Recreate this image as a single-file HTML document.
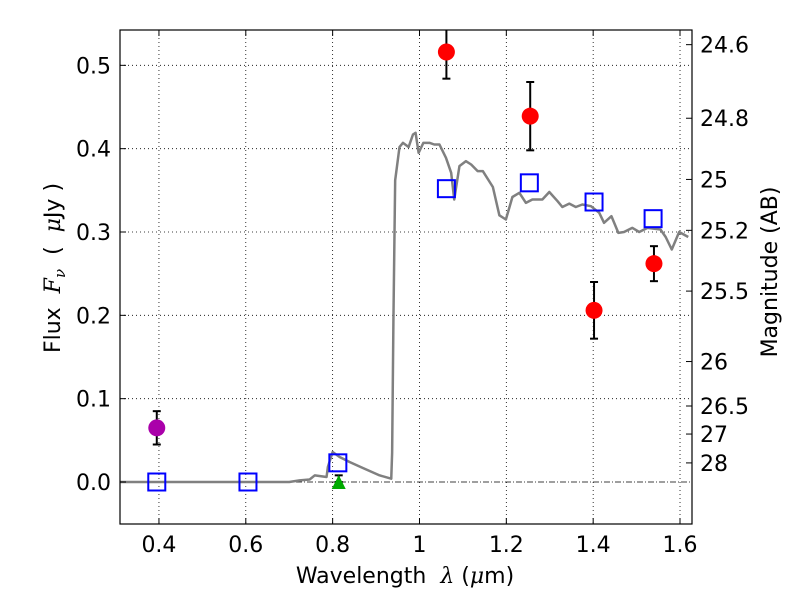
<!DOCTYPE html>
<html><head><meta charset="utf-8"><style>
html,body{margin:0;padding:0;background:#fff;}
svg{display:block;font-family:"DejaVu Sans","Liberation Sans",sans-serif;}
</style></head><body>
<svg id="chart" width="800" height="600" viewBox="0 0 800 600">
<rect x="0" y="0" width="800" height="600" fill="#fff"/>
<g id="grid"></g>
<g id="plot"></g>
<rect x="120" y="30" width="572" height="494" fill="none" stroke="#000" stroke-width="1.2"/>
<g id="axes"></g>
<text x="405" y="583" font-size="22" text-anchor="middle">Wavelength&#160;&#160;<tspan font-family="DejaVu Serif, serif" font-style="italic">λ</tspan>&#160;(<tspan font-family="DejaVu Serif, serif" font-style="italic">μ</tspan>m)</text>
<text transform="translate(60,268) rotate(-90)" font-size="22" text-anchor="middle">Flux&#160;&#160;<tspan font-family="DejaVu Serif, serif" font-style="italic">F</tspan><tspan font-family="DejaVu Serif, serif" font-style="italic" font-size="15" dy="5">ν</tspan><tspan dy="-5">&#160;&#160;(&#160;&#160;</tspan><tspan font-family="DejaVu Serif, serif" font-style="italic">μ</tspan>Jy&#160;)</text>
<text transform="translate(777,272) rotate(-90)" font-size="22" text-anchor="middle">Magnitude (AB)</text>
</svg>
<script>
const xTicks=[0.4,0.6,0.8,1.0,1.2,1.4,1.6];
const xTickLabels=["0.4","0.6","0.8","1","1.2","1.4","1.6"];
const yTicks=[0.0,0.1,0.2,0.3,0.4,0.5];
const yTickLabels=["0.0","0.1","0.2","0.3","0.4","0.5"];
const magTicks=[24.6,24.8,25,25.2,25.5,26,26.5,27,28];
const magTickLabels=["24.6","24.8","25","25.2","25.5","26","26.5","27","28"];
const sedLam=[0.31,0.5,0.7,0.724,0.747,0.759,0.786,0.789,0.8,0.816,0.839,0.869,0.908,0.935,0.937,0.940,0.944,0.954,0.962,0.975,0.985,0.991,0.998,1.009,1.023,1.034,1.046,1.061,1.073,1.080,1.092,1.107,1.119,1.134,1.146,1.169,1.184,1.199,1.214,1.230,1.245,1.260,1.283,1.299,1.318,1.329,1.345,1.360,1.375,1.395,1.414,1.425,1.442,1.458,1.471,1.490,1.506,1.525,1.555,1.567,1.581,1.598,1.619];
const sedFlux=[0,0,0,0.002,0.003,0.008,0.006,0.018,0.036,0.030,0.024,0.017,0.008,0.004,0.035,0.195,0.362,0.402,0.407,0.402,0.417,0.419,0.395,0.407,0.407,0.405,0.405,0.389,0.371,0.339,0.379,0.385,0.381,0.373,0.373,0.354,0.320,0.315,0.342,0.347,0.335,0.339,0.339,0.348,0.337,0.330,0.334,0.330,0.333,0.331,0.323,0.311,0.319,0.299,0.300,0.305,0.300,0.305,0.303,0.294,0.279,0.300,0.294];
const modelLam=[0.395,0.605,0.812,1.062,1.253,1.402,1.538];
const modelFlux=[0,0,0.023,0.352,0.359,0.336,0.316];
const obsLam=[1.062,1.255,1.402,1.540];
const obsFlux=[0.516,0.439,0.206,0.262];
const obsErr=[0.032,0.041,0.034,0.021];
const uLam=[0.395];const uFlux=[0.065];const uErr=[0.02];
const triLam=[0.814];const triFlux=[0.0];const triErr=[0.008];

const X0=120,X1=692,Y0=30,Y1=524;
const xmin=0.3103,xmax=1.6276,ymin=-0.0504,ymax=0.5424;
const sx=v=>X0+(v-xmin)/(xmax-xmin)*(X1-X0);
const sy=v=>Y1-(v-ymin)/(ymax-ymin)*(Y1-Y0);
const NS="http://www.w3.org/2000/svg";
function mk(tag,attrs,parent){const e=document.createElementNS(NS,tag);for(const k in attrs)e.setAttribute(k,attrs[k]);parent.appendChild(e);return e;}
const grid=document.getElementById('grid'),plot=document.getElementById('plot'),axes=document.getElementById('axes');

xTicks.forEach((t,i)=>{const x=sx(t);
 const g=mk('line',{x1:x,x2:x,y1:Y0,y2:Y1,stroke:'#000','stroke-width':0.8,'stroke-dasharray':'1,3'},grid);
 
 mk('line',{x1:x,x2:x,y1:Y1,y2:Y1-6,stroke:'#000'},axes);mk('line',{x1:x,x2:x,y1:Y0,y2:Y0+6,stroke:'#000'},axes);
 const tx=mk('text',{x:x,y:Y1+28,'font-size':22,'text-anchor':'middle'},axes);tx.textContent=xTickLabels[i];
 });
yTicks.forEach((t,i)=>{const y=sy(t);
 if(t!==0){const g=mk('line',{x1:X0,x2:X1,y1:y,y2:y,stroke:'#000','stroke-width':0.8,'stroke-dasharray':'1,3'},grid);
 }
 mk('line',{x1:X0,x2:X0+6,y1:y,y2:y,stroke:'#000'},axes);
 const tx=mk('text',{x:X0-9,y:y+8,'font-size':22,'text-anchor':'end'},axes);tx.textContent=yTickLabels[i];
 });
magTicks.forEach((m,i)=>{const y=sy(Math.pow(10,(23.9-m)/2.5));
 mk('line',{x1:X1,x2:X1-6,y1:y,y2:y,stroke:'#000'},axes);
 const tx=mk('text',{x:X1+8,y:y+8,'font-size':22},axes);tx.textContent=magTickLabels[i];
 });
const zl=mk('line',{x1:X0,x2:X1,y1:sy(0),y2:sy(0),stroke:'#000','stroke-width':0.8,'stroke-dasharray':'6,2,1,2'},grid);


const sed=mk('polyline',{points:sedLam.map((l,i)=>sx(l)+','+sy(sedFlux[i])).join(' '),fill:'none',stroke:'#808080','stroke-width':2.5,'stroke-linejoin':'round'},plot);


function errbar(x,yl,yh){mk('line',{x1:x,x2:x,y1:sy(yl),y2:sy(yh),stroke:'#000','stroke-width':2},plot);
 mk('line',{x1:x-4,x2:x+4,y1:sy(yl),y2:sy(yl),stroke:'#000','stroke-width':2},plot);
 mk('line',{x1:x-4,x2:x+4,y1:sy(yh),y2:sy(yh),stroke:'#000','stroke-width':2},plot);}
triLam.forEach((l,i)=>{const x=sx(l),y=sy(triFlux[i]);errbar(x,triFlux[i],triFlux[i]+triErr[i]);
 const p=mk('polygon',{points:`${x},${y-7} ${x-7},${y+7} ${x+7},${y+7}`,fill:'#00aa00'},plot);
 });
modelLam.forEach((l,i)=>{const r=mk('rect',{x:sx(l)-8.5,y:sy(modelFlux[i])-8.5,width:17,height:17,fill:'none',stroke:'#0000ff','stroke-width':2},plot);
 });
obsLam.forEach((l,i)=>{const x=sx(l);errbar(x,obsFlux[i]-obsErr[i],obsFlux[i]+obsErr[i]);
 const c=mk('circle',{cx:x,cy:sy(obsFlux[i]),r:8.5,fill:'#ff0000'},plot);
 });
uLam.forEach((l,i)=>{const x=sx(l);errbar(x,uFlux[i]-uErr[i],uFlux[i]+uErr[i]);
 const c=mk('circle',{cx:x,cy:sy(uFlux[i]),r:8.5,fill:'#aa00aa'},plot);
 });
const cp=mk('clipPath',{id:'clip'},document.getElementById('chart'));mk('rect',{x:X0,y:Y0,width:X1-X0,height:Y1-Y0},cp);
plot.setAttribute('clip-path','url(#clip)');
</script>
</body></html>
